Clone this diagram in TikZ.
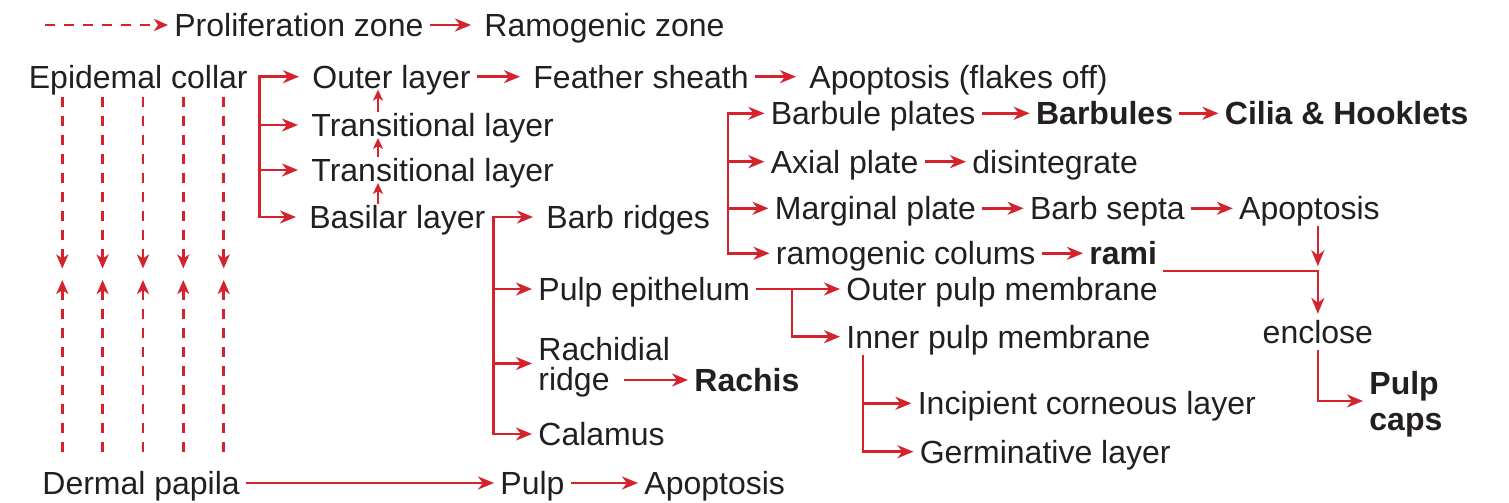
\documentclass[tikz,border=0pt]{standalone}
\usepackage{fontspec}
\setmainfont{Liberation Sans}
\usetikzlibrary{arrows.meta}
\definecolor{fred}{RGB}{213,35,45}
\definecolor{ink}{RGB}{35,31,32}

\begin{document}
\begin{tikzpicture}[x=0.5pt,y=-0.5pt,
  lbl/.style={font=\fontsize{16}{19}\selectfont,text=ink,anchor=west,
    inner xsep=3pt,inner ysep=3pt,text height=11.5pt,text depth=0pt},
  bld/.style={lbl,font=\fontsize{16}{19}\selectfont\bfseries},
  duo/.style={font=\fontsize{16}{15}\selectfont,text=ink,align=left,
    anchor=north west,inner sep=3pt},
  arr/.style={draw=fred,line width=1.25pt,
    -{Stealth[length=8pt,width=6.5pt,inset=2.5pt]}},
  darr/.style={draw=fred,line width=1.25pt,dash pattern=on 5pt off 4.5pt,
    -{Stealth[length=7pt,width=6pt,inset=2pt]}},
  sarr/.style={draw=fred,line width=1pt,
    -{Stealth[length=5.5pt,width=5pt,inset=1.5pt]}},
  lgap/.style={shorten >=3.5pt}]
  \useasboundingbox (0,0) rectangle (1509,503);
  \node[lbl] (pz) at (168,25) {Proliferation zone};
  \node[lbl] (rz) at (478,25) {Ramogenic zone};
  \node[lbl] (ec) at (22.5,76.7) {Epidemal collar};
  \node[lbl] (ol) at (306,76.7) {Outer layer};
  \node[lbl] (fs) at (527,76.7) {Feather sheath};
  \node[lbl] (ap1) at (803,76.7) {Apoptosis (flakes off)};
  \node[lbl] (tl1) at (305,125) {Transitional layer};
  \node[lbl] (tl2) at (305,170) {Transitional layer};
  \node[lbl] (bl) at (303,217) {Basilar layer};
  \node[lbl] (br) at (540,217) {Barb ridges};
  \node[lbl] (bp) at (764.4,113.3) {Barbule plates};
  \node[bld] (bb) at (1029.7,113.3) {Barbules};
  \node[bld] (ch) at (1218.5,113.3) {Cilia \& Hooklets};
  \node[lbl] (axp) at (764.4,161.7) {Axial plate};
  \node[lbl] (dis) at (966,161.7) {disintegrate};
  \node[lbl] (mp) at (768.5,208.3) {Marginal plate};
  \node[lbl] (bs) at (1023.6,208.3) {Barb septa};
  \node[lbl] (ap2) at (1232.8,208.3) {Apoptosis};
  \node[lbl] (rc) at (769.5,253.3) {ramogenic colums};
  \node[bld] (rami) at (1083,253.3) {rami};
  \node[lbl] (enc) at (1256.3,331.7) {enclose};
  \node[duo,font=\fontsize{16}{18}\selectfont\bfseries] (pc) at (1363,365)
    {Pulp\\\smash{caps}};
  \node[lbl] (pe) at (532,289) {Pulp epithelum};
  \node[lbl] (opm) at (840,289) {Outer pulp membrane};
  \node[lbl] (ipm) at (840,336.7) {Inner pulp membrane};
  \node[duo] (rr) at (532,330.5) {Rachidial\\\smash{ridge}};
  \node[bld] (rachis) at (688,380) {Rachis};
  \node[lbl] (ca) at (532,434) {Calamus};
  \node[lbl] (icl) at (911.4,403.3) {Incipient corneous layer};
  \node[lbl] (gl) at (913.4,451.7) {Germinative layer};
  \node[lbl] (dp) at (36,483) {Dermal papila};
  \node[lbl] (pu) at (494,483) {Pulp};
  \node[lbl] (ap3) at (638,483) {Apoptosis};
  \coordinate (lg) at (45,25);
  \draw[darr] (lg) -- (pz);
  \draw[arr,lgap] (pz) -- (rz);
  \coordinate (ka) at (259.5,0);
  \draw[arr,lgap] (ka |- bl) |- (ol);
  \draw[arr,lgap] (ka |- ol) |- (bl);
  \foreach \n in {tl1,tl2}
    \draw[arr,lgap] (ka |- \n) -- (\n);
  \draw[arr,lgap] (ol) -- (fs);
  \draw[arr,lgap] (fs) -- (ap1);
  \coordinate (kx) at (378,0);
  \foreach \a/\b in {tl1/ol,tl2/tl1,bl/tl2}
    \draw[sarr,shorten <=6.5pt,shorten >=6.5pt] (kx |- \a) -- (kx |- \b);
  \coordinate (dz) at (0,268.5);
  \coordinate (uz) at (0,280);
  \foreach \x in {62.3,102.6,143,183.3,223.7}{
    \coordinate (vx) at (\x,0);
    \draw[darr,shorten <=1pt] (ec.south -| vx) -- (dz -| vx);
    \draw[darr,shorten <=6.5pt] (dp.north -| vx) -- (uz -| vx);
  }
  \draw[arr] (dp) -- (pu);
  \draw[arr] (pu) -- (ap3);
  \coordinate (kb) at (493.4,0);
  \draw[arr,lgap] (kb |- ca) |- (br);
  \draw[arr] (kb |- br) |- (ca);
  \foreach \n in {pe,rr}
    \draw[arr] (kb |- \n) -- (\n);
  \coordinate (rrx) at (623.5,380);
  \draw[arr] (rrx) -- (rachis);
  \coordinate (kc) at (728,0);
  \draw[arr] (kc |- rc) |- (bp);
  \draw[arr] (kc |- bp) |- (rc);
  \foreach \n in {axp,mp}
    \draw[arr] (kc |- \n) -- (\n);
  \draw[arr] (bp) -- (bb);
  \draw[arr] (bb) -- (ch);
  \draw[arr] (axp) -- (dis);
  \draw[arr] (mp) -- (bs);
  \draw[arr] (bs) -- (ap2);
  \draw[arr] (rc) -- (rami);
  \coordinate (jn) at (enc |- rami.south east);
  \draw[arr] (rami.south east) -| (enc);
  \draw[arr,shorten >=2.5pt] (ap2.south -| jn) -- (jn);
  \draw[arr] (enc) |- (pc);
  \coordinate (kd) at (791.8,0);
  \draw[arr] (pe) -- (opm);
  \draw[arr] (kd |- pe) |- (ipm);
  \coordinate (ke) at (863,0);
  \draw[arr] (ipm.south -| ke) |- (gl);
  \draw[arr] (ke |- icl) -- (icl);
\end{tikzpicture}
\end{document}
